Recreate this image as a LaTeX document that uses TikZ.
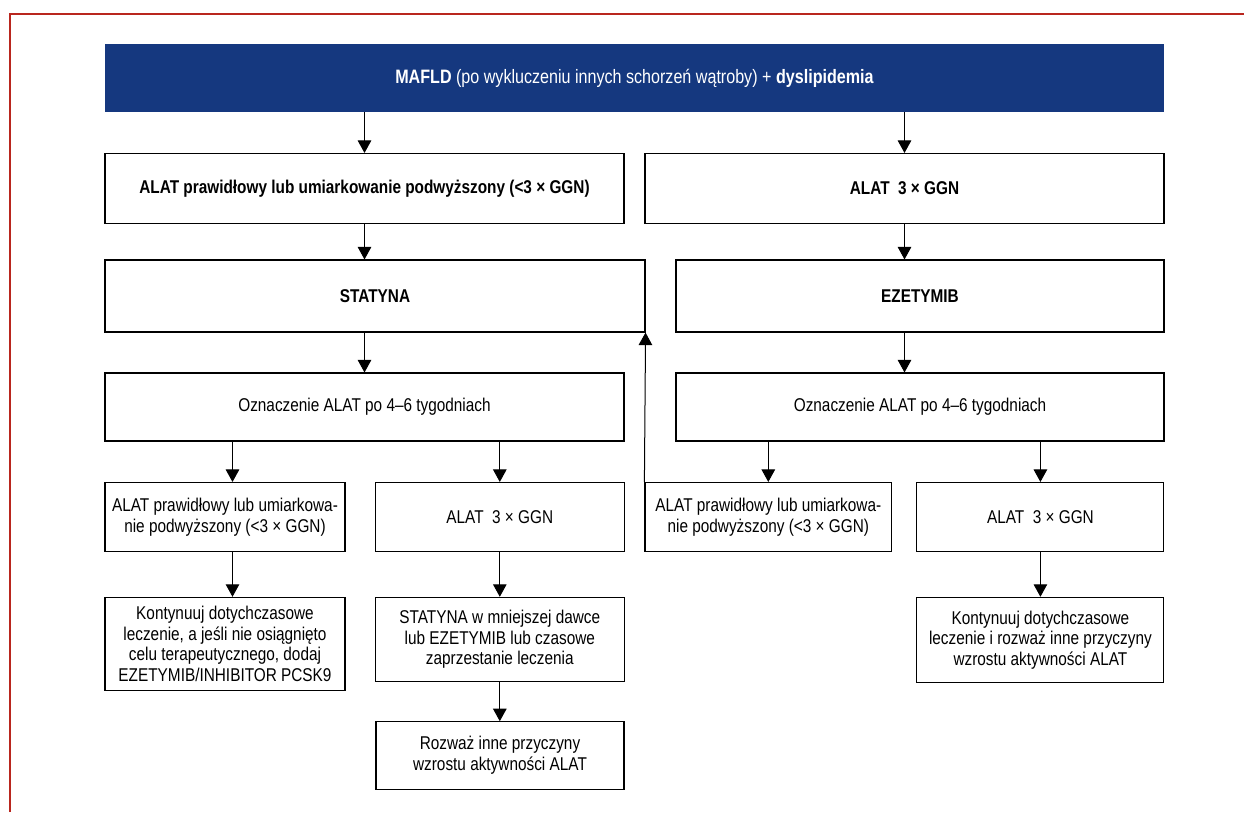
\documentclass[tikz,border=0pt]{standalone}
\usepackage{fontspec}
\setmainfont{Liberation Sans}[FakeStretch=0.83]
\usetikzlibrary{arrows.meta}
\definecolor{bannerblue}{RGB}{21,56,127}
\definecolor{framered}{RGB}{185,38,30}
\tikzset{
  box/.style={draw=black, line width=1.1pt, align=center, inner sep=0pt, anchor=center,
    font=\fontsize{18.5}{20.5}\selectfont},
  bannerbox/.style={fill=bannerblue, draw=none, align=center, inner sep=0pt, text=white,
    font=\fontsize{19.4}{21}\selectfont},
  arr/.style={-{Triangle[length=12.5pt,width=13.5pt]}, line width=1pt},
}
\begin{document}
\begin{tikzpicture}[x=1pt,y=-1pt]
\useasboundingbox (0,0) rectangle (1244,812);
\draw[framered, line width=1.6pt] (10,812) -- (10,14) -- (1244,14);

\node[bannerbox, minimum width=1059pt, minimum height=68pt] (banner) at (634.5,78)
  {\textbf{MAFLD} (po wykluczeniu innych schorzeń wątroby) + \textbf{dyslipidemia}};

\node[box, minimum width=519pt, minimum height=70pt] (r1L) at (364.5,188.5)
  {\textbf{ALAT prawidłowy lub umiarkowanie podwyższony (<3 × GGN)}};
\node[box, minimum width=519pt, minimum height=70pt] (r1R) at (904.5,188.5)
  {\textbf{ALAT\ \ 3 × GGN}};

\node[box, minimum width=540pt, minimum height=72pt] (r2L) at (375,296)
  {\textbf{STATYNA}};
\node[box, minimum width=488pt, minimum height=72pt] (r2R) at (920,296)
  {\textbf{EZETYMIB}};

\node[box, minimum width=519pt, minimum height=68pt] (r3L) at (364.5,407)
  {Oznaczenie ALAT po 4–6 tygodniach};
\node[box, minimum width=488pt, minimum height=68pt] (r3R) at (920,407)
  {Oznaczenie ALAT po 4–6 tygodniach};

\node[box, minimum width=240pt, minimum height=69pt] (r4a) at (225,517)
  {ALAT prawidłowy lub umiarkowa-\\nie podwyższony (<3 × GGN)};
\node[box, minimum width=248.5pt, minimum height=69pt] (r4b) at (499.8,517)
  {ALAT\ \ 3 × GGN};
\node[box, minimum width=246.7pt, minimum height=69pt] (r4c) at (768.3,517)
  {ALAT prawidłowy lub umiarkowa-\\nie podwyższony (<3 × GGN)};
\node[box, minimum width=247pt, minimum height=69pt] (r4d) at (1040.4,517)
  {ALAT\ \ 3 × GGN};

\node[box, minimum width=240pt, minimum height=93.3pt] (r5a) at (225,644)
  {Kontynuuj dotychczasowe\\leczenie, a jeśli nie osiągnięto\\celu terapeutycznego, dodaj\\EZETYMIB/INHIBITOR PCSK9};
\node[box, minimum width=248.5pt, minimum height=84.3pt] (r5b) at (499.8,639.5)
  {STATYNA w mniejszej dawce\\lub EZETYMIB lub czasowe\\zaprzestanie leczenia};
\node[box, minimum width=247pt, minimum height=85.3pt] (r5d) at (1040.4,640)
  {Kontynuuj dotychczasowe\\leczenie i rozważ inne przyczyny\\wzrostu aktywności ALAT};

\node[box, minimum width=248pt, minimum height=67.3pt] (r6b) at (500,755.4)
  {Rozważ inne przyczyny\\wzrostu aktywności ALAT};

% connectors
\coordinate (xl) at (364.5,0);
\coordinate (xr) at (904.5,0);
\coordinate (xa) at (232.5,0);
\draw[arr] (banner.south -| xl) -- (r1L.north -| xl);
\draw[arr] (banner.south -| xr) -- (r1R.north -| xr);
\draw[arr] (r1L.south -| xl) -- (r2L.north -| xl);
\draw[arr] (r1R.south -| xr) -- (r2R.north -| xr);
\draw[arr] (r2L.south -| xl) -- (r3L.north -| xl);
\draw[arr] (r2R.south -| xr) -- (r3R.north -| xr);
\draw[arr] (r3L.south -| xa) -- (r4a.north -| xa);
\draw[arr] (r3L.south -| r4b) -- (r4b.north);
\draw[arr] (r3R.south -| r4c) -- (r4c.north);
\draw[arr] (r3R.south -| r4d) -- (r4d.north);
\draw[arr] (r4a.south -| xa) -- (r5a.north -| xa);
\draw[arr] (r4b.south) -- (r5b.north -| r4b);
\draw[arr] (r4d.south) -- (r5d.north);
\draw[arr] (r5b.south) -- (r6b.north -| r5b);
\draw[arr] (r4c.north west) -- (r2L.south east);
\end{tikzpicture}
\end{document}
